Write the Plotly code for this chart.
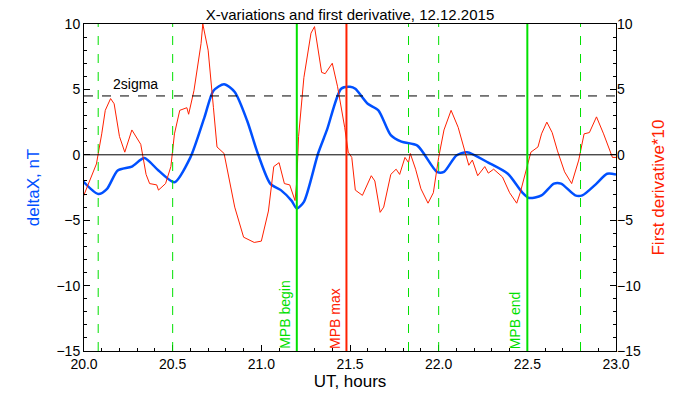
import plotly.graph_objects as go

bx = [19.99,20.08,20.13,20.19,20.27,20.34,20.42,20.51,20.60,20.68,20.73,20.79,20.85,20.92,20.98,21.05,21.11,21.17,21.20,21.24,21.32,21.37,21.45,21.50,21.53,21.60,21.66,21.73,21.79,21.88,21.99,22.03,22.10,22.16,22.28,22.39,22.47,22.51,22.58,22.65,22.69,22.77,22.81,22.89,22.95,23.0]
by = [-1.96,-3.0,-2.6,-1.2,-0.9,-0.25,-1.2,-2.1,-0.2,2.9,4.9,5.4,4.8,2.6,0.1,-2.2,-2.7,-3.5,-4.1,-3.6,0.1,1.9,5.05,5.2,5.05,3.9,3.4,1.5,1.0,0.7,-1.3,-1.3,-0.05,0.2,-0.6,-1.45,-2.85,-3.3,-3.1,-2.2,-2.2,-3.1,-3.1,-2.2,-1.45,-1.5]

rx = [19.99,20.04,20.07,20.10,20.12,20.15,20.17,20.20,20.23,20.27,20.29,20.32,20.35,20.37,20.41,20.42,20.46,20.49,20.51,20.54,20.58,20.59,20.62,20.66,20.67,20.70,20.73,20.75,20.79,20.85,20.90,20.96,21.00,21.04,21.07,21.10,21.13,21.16,21.19,21.20,21.21,21.24,21.28,21.30,21.34,21.36,21.40,21.43,21.47,21.49,21.51,21.53,21.57,21.62,21.64,21.67,21.69,21.73,21.76,21.78,21.81,21.83,21.84,21.87,21.90,21.94,21.97,22.00,22.03,22.07,22.11,22.14,22.17,22.19,22.22,22.26,22.28,22.31,22.36,22.40,22.44,22.46,22.50,22.52,22.56,22.58,22.61,22.64,22.67,22.71,22.75,22.79,22.82,22.85,22.89,22.93,22.98,23.0]
ry = [-3.4,-1.7,-0.7,1.6,3.4,4.3,3.9,1.4,0.2,1.9,1.5,0.8,-1.5,-2.2,-2.3,-2.7,-2.2,-0.9,1.6,3.4,3.6,3.1,4.9,8.5,10.0,8.0,3.6,0.6,0.1,-4.0,-6.3,-6.7,-6.6,-4.3,-0.9,-0.6,-2.2,-2.3,-3.5,-2.0,1.4,5.9,9.3,9.8,6.3,6.2,7.0,5.2,2.1,0.2,-0.2,-2.7,-3.1,-1.6,-2.0,-4.4,-4.0,-1.5,-1.1,-1.5,-0.2,-0.6,0.1,-1.1,-2.6,-3.7,-2.9,-0.2,1.9,3.4,2.1,0.6,-0.8,-0.4,-1.6,-0.9,-1.4,-1.1,-1.7,-2.9,-3.7,-2.9,-0.7,0.2,0.6,1.6,2.5,1.7,0.3,-1.3,-2.2,-0.4,1.6,1.7,2.9,1.6,-0.2,-0.2]

dashed_x = [20.08, 20.5, 21.83, 22.0, 22.8]
events = [(21.2, "MPB begin", "#00e000"), (21.48, "MPB max", "#ff2000"), (22.5, "MPB end", "#00e000")]
sigma2 = 4.5

fig = go.Figure()
fig.add_trace(go.Scatter(x=rx, y=ry, mode="lines", line=dict(color="#ff2000", width=1), yaxis="y2"))
fig.add_trace(go.Scatter(x=bx, y=by, mode="lines", line=dict(color="#0050ff", width=2.5, shape="spline", smoothing=0.7)))

shapes = [dict(type="line", xref="paper", x0=0, x1=1, y0=0, y1=0, line=dict(color="black", width=1)),
          dict(type="line", xref="paper", x0=0, x1=1, y0=sigma2, y1=sigma2, line=dict(color="black", width=1, dash="dash"))]
for d in dashed_x:
    shapes.append(dict(type="line", yref="paper", x0=d, x1=d, y0=0, y1=1, line=dict(color="#00e000", width=1, dash="dash")))
ann = [dict(x=20.15, y=5.4, text="2sigma", showarrow=False, xanchor="left", font=dict(size=14, color="black"))]
for ex, lab, col in events:
    shapes.append(dict(type="line", yref="paper", x0=ex, x1=ex, y0=0, y1=1, line=dict(color=col, width=2)))
    ann.append(dict(x=ex, y=-15, yanchor="bottom", xanchor="right", xshift=-2, text=lab, textangle=-90,
                    showarrow=False, font=dict(size=14, color=col)))

common = dict(showline=True, linecolor="black", mirror=True, ticks="inside", ticklen=6, tickcolor="black",
              showgrid=False, zeroline=False, automargin=False)
fig.update_layout(
    width=700, height=400, margin=dict(l=76, r=92, t=16, b=57),
    paper_bgcolor="white", plot_bgcolor="white", showlegend=False,
    font=dict(family="Liberation Sans", size=14, color="black"),
    title=dict(text="X-variations and first derivative, 12.12.2015", x=0.5, xref="paper", y=1, yanchor="top",
               pad=dict(t=1), font=dict(size=15)),
    xaxis=dict(range=[20, 23], dtick=0.5, tickformat=".1f", title=dict(text="UT, hours", standoff=2),
               minor=dict(ticks="inside", ticklen=3, dtick=0.1, tickcolor="black"), **common),
    yaxis=dict(range=[-15, 10], dtick=5, title=dict(text="deltaX, nT", font=dict(color="#0050ff"), standoff=12),
               minor=dict(ticks="inside", ticklen=3, dtick=1, tickcolor="black"), **common),
    yaxis2=dict(range=[-15, 10], dtick=5, overlaying="y", side="right",
                title=dict(text="First derivative*10", font=dict(color="#ff2000"), standoff=12),
                ticks="inside", ticklen=6, tickcolor="black", showgrid=False, zeroline=False, automargin=False,
                minor=dict(ticks="inside", ticklen=3, dtick=1, tickcolor="black")),
    shapes=shapes, annotations=ann,
)
fig.write_html("out.html")
